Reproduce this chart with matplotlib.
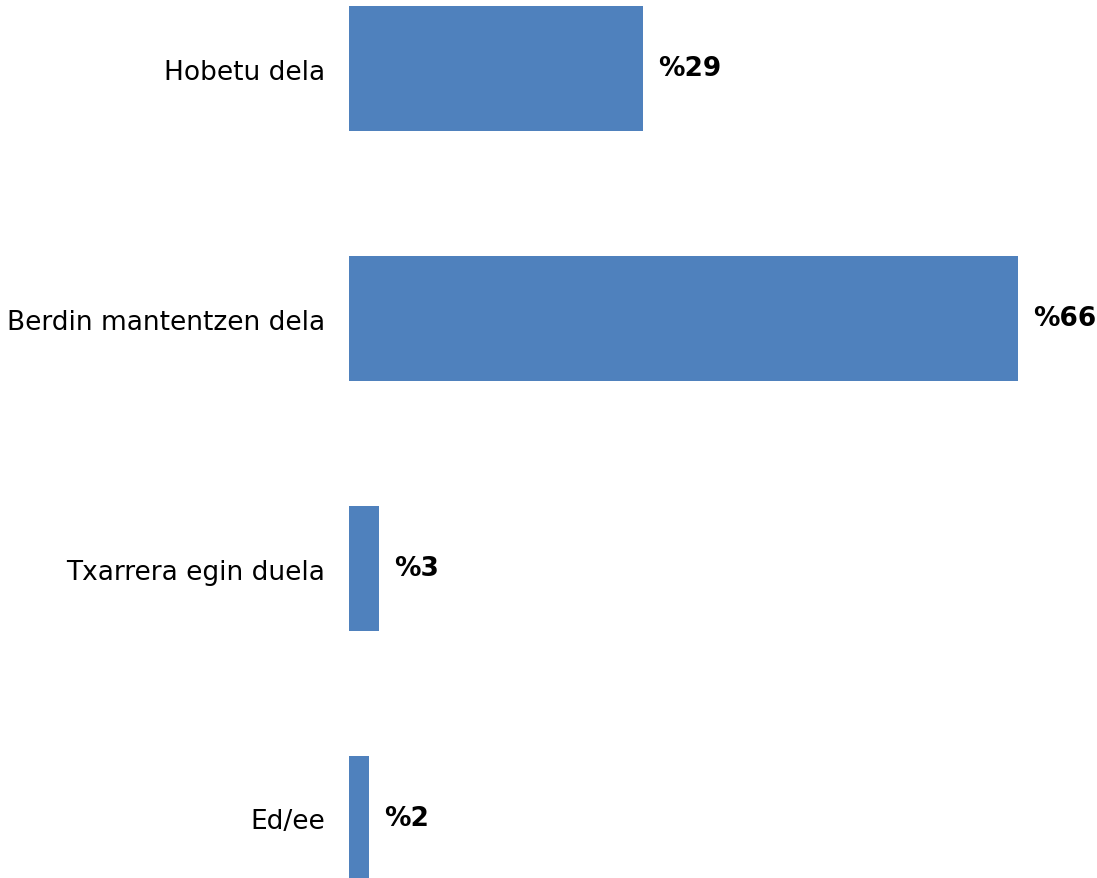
import matplotlib.pyplot as plt

categories = ['Hobetu dela', 'Berdin mantentzen dela', 'Txarrera egin duela', 'Ed/ee']
values = [29, 66, 3, 2]
value_labels = ['%29', '%66', '%3', '%2']

plt.rcParams['font.family'] = ['DejaVu Sans']

fig = plt.figure(figsize=(10.97, 8.79), dpi=100)
ax = fig.add_axes([349 / 1097, 0, 1 - 349 / 1097, 1])

pos = list(range(len(categories)))
ax.barh(pos, values, height=0.5, color='#4F81BD')
ax.set_ylim(3.238, -0.278)
ax.set_xlim(0, 748 / 10.14)

ax.set_yticks(pos)
ax.set_yticklabels(categories, fontsize=19)
ax.tick_params(axis='y', length=0, pad=17)
ax.set_xticks([])
for s in ax.spines.values():
    s.set_visible(False)

for p, v, lab in zip(pos, values, value_labels):
    ax.annotate(lab, (v, p), xytext=(15, 0), textcoords='offset pixels',
                va='center', ha='left', fontsize=19, fontweight='bold')

fig.savefig('out.png', dpi=100)
